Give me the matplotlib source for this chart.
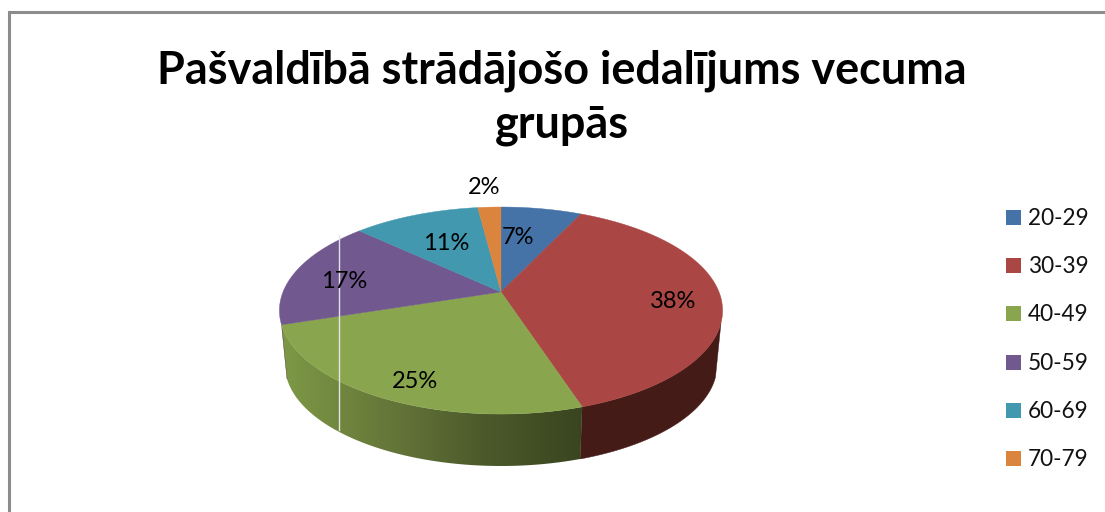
import matplotlib
matplotlib.use("Agg")
import matplotlib.pyplot as plt
from matplotlib.colors import LinearSegmentedColormap
from matplotlib.patches import Polygon, Rectangle
import numpy as np

TITLE = "Pašvaldībā strādājošo iedalījums vecuma\ngrupās"
CATEGORIES = ["20-29", "30-39", "40-49", "50-59", "60-69", "70-79"]
SHARES = [7, 38, 25, 17, 11, 2]
COLORS = ["#4572A7", "#AA4643", "#89A54E", "#71588F", "#4198AF", "#DB843D"]
LABEL_POS = [(518, 238), (673, 302), (415, 381), (344, 282), (446, 243), (484, 187)]

# pie geometry in image pixels, the tilt is a simple perspective on the disc
CX, CY = 501, 292
RX, RY, TILT = 218, 100.2, 0.179
SIDE_SCALE, SIDE_DROP = 0.975, 55
SIDE_FROM, SIDE_TO = 107, 252  # degrees clockwise from top where the wall shows

plt.rcParams["font.family"] = ["Lato", "DejaVu Sans"]


def rim(deg, scale=1.0, drop=0.0):
    t = np.radians(deg)
    w = 1 + TILT * np.cos(t)
    return (CX + scale * RX * np.sin(t) / w,
            CY + drop + scale * (-RY) * np.cos(t) / w)


def arc(start, end):
    n = max(int(abs(end - start)) * 2, 2)
    return np.linspace(start, end, n)


fig = plt.figure(figsize=(11.05, 5.12), dpi=100)
ax = fig.add_axes([0, 0, 1, 1])
ax.set_xlim(0, 1105)
ax.set_ylim(512, 0)
ax.axis("off")

# chart frame runs off the right and bottom of the crop
ax.plot([9, 9, 1105], [512, 12, 12], color="#8C8C8C", lw=2.2, solid_joinstyle="miter")

edges = np.cumsum([0] + SHARES) / sum(SHARES) * 360

wall_cmap = LinearSegmentedColormap.from_list(
    "wall", ["#7D9946", "#67793A", "#4C5A2B", "#39451F"])

# side walls of the slices facing the viewer
for i in range(len(SHARES)):
    start, end = max(edges[i], SIDE_FROM), min(edges[i + 1], SIDE_TO)
    if end <= start:
        continue
    a = arc(start, end)
    tx, ty = rim(a)
    bx, by = rim(a[::-1], SIDE_SCALE, SIDE_DROP)
    pts = np.column_stack([np.r_[tx, bx], np.r_[ty, by]])
    if CATEGORIES[i] == "40-49":
        poly = Polygon(pts, closed=True, fc="none", ec="none")
        ax.add_patch(poly)
        grad = ax.imshow(np.linspace(0, 1, 256)[None, :], cmap=wall_cmap, aspect="auto",
                         extent=(pts[:, 0].min(), pts[:, 0].max(), pts[:, 1].max(), pts[:, 1].min()),
                         zorder=2)
        grad.set_clip_path(poly)
    else:
        ax.add_patch(Polygon(pts, closed=True, fc="#451B18", ec="#451B18", lw=0.3, zorder=2))

# top face
for i, color in enumerate(COLORS):
    x, y = rim(arc(edges[i], edges[i + 1]))
    pts = np.column_stack([np.r_[CX, x], np.r_[CY, y]])
    ax.add_patch(Polygon(pts, closed=True, fc=color, ec=color, lw=0.3, zorder=3))

ax.set_xlim(0, 1105)
ax.set_ylim(512, 0)

# stray light line from the screenshot
ax.plot([338.5, 338.5], [235, 430], color="#E4E4E4", lw=1.0, zorder=4)

for (lx, ly), share in zip(LABEL_POS, SHARES):
    ax.text(lx, ly, f"{share}%", ha="center", va="center", fontsize=17, color="black", zorder=5)

ax.text(562, 97.5, TITLE, ha="center", va="center", fontsize=32.4, fontweight="bold",
        color="black", linespacing=1.35, multialignment="center")

legend_y = [217.3, 265.3, 313.3, 362.3, 410.3, 458.3]
for name, color, ly in zip(CATEGORIES, COLORS, legend_y):
    ax.add_patch(Rectangle((1006, ly - 7.5), 15, 15, fc=color, ec="none"))
    ax.text(1028, ly + 1, name, ha="left", va="center", fontsize=16.3, color="#111111")

fig.savefig("out.png", dpi=100)
